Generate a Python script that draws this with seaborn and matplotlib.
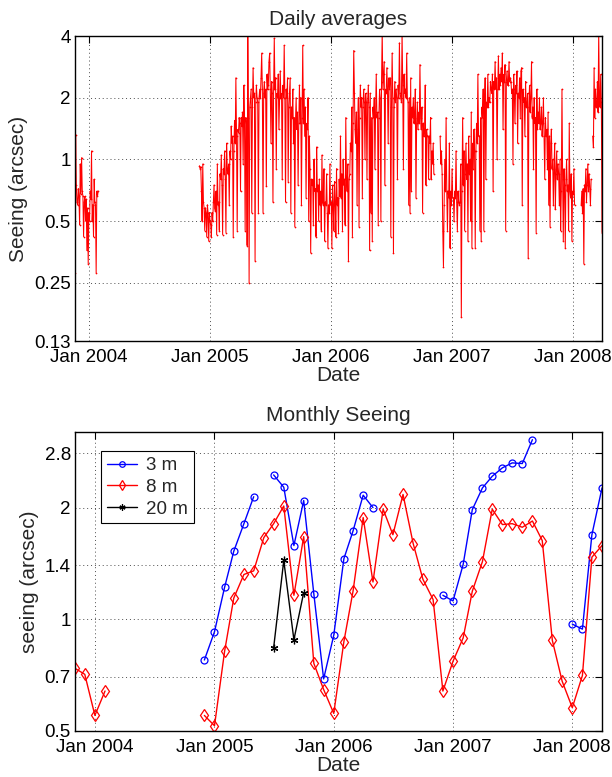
import numpy as np
import pandas as pd
import matplotlib
matplotlib.use("Agg")
import matplotlib.pyplot as plt
import seaborn as sns
from matplotlib.ticker import FixedLocator, FixedFormatter, NullLocator

# ---------------- data: daily averages (2-day sampling) ----------------
daily_start = ["2003-11-20", "2004-11-30", "2006-11-27", "2008-01-27", "2008-03-02"]

daily_seg1 = [0.28, 1.32, 0.75, 0.62, 0.60, 0.72, 0.66, 0.48, 0.95, 0.68, 1.02, 0.70,
              0.66, 0.42, 0.62, 0.66, 0.50, 0.64, 0.36, 0.58, 0.31, 0.55, 0.50, 0.70,
              0.64, 1.10, 0.50, 0.60, 0.42, 0.80, 0.62, 0.60, 0.28, 0.70, 0.66, 0.70]

daily_seg2 = [
    0.93, 0.90, 0.92, 0.70, 0.50, 0.95, 0.62, 0.58, 0.45, 0.58, 0.55, 0.42, 0.60, 0.55, 0.40, 0.55,
    0.50, 0.48, 0.42, 0.55, 0.50, 0.62, 0.75, 0.58, 0.56, 0.70, 0.43, 0.95, 0.60, 0.62, 0.45,
    0.85, 0.80, 1.05, 0.75, 0.43, 0.90, 0.85, 1.10, 0.80, 0.44, 1.20, 0.90, 0.85, 0.95, 0.60,
    1.10, 1.00, 1.45, 1.20, 1.30, 0.42, 1.10, 1.55, 1.20, 2.50, 1.30, 0.45, 1.40, 1.35, 1.60,
    1.50, 0.70, 1.60, 1.45, 1.70, 0.95, 2.30, 1.60, 0.45, 1.60, 1.50, 0.38, 4.20, 1.60, 0.25,
    1.80, 2.00, 2.20, 0.55, 1.80, 2.80, 2.00, 2.10, 0.32, 1.90, 2.30, 2.00, 1.90, 0.55, 2.00,
    2.20, 2.00, 2.50, 3.30, 2.20, 0.55, 2.10, 2.40, 2.00, 2.20, 0.74, 2.60, 2.20, 2.30, 3.00,
    3.30, 2.20, 1.20, 2.40, 2.10, 0.62, 2.20, 3.90, 2.20, 2.50, 0.90, 2.10, 2.00, 2.60, 1.40, 2.00,
    2.70, 2.00, 2.10, 0.80, 2.30, 2.00, 3.60, 2.00, 0.62, 2.20, 2.00, 2.50, 0.78, 1.80, 2.10,
    2.50, 0.55, 1.80, 1.60, 2.20, 1.20, 1.60, 0.47, 1.50, 2.00, 1.40, 1.70, 0.75, 1.50, 2.30,
    1.50, 2.00, 0.60, 1.60, 3.60, 1.50, 2.20, 1.30, 1.80, 0.65, 1.50, 1.40, 2.00, 0.50, 1.30,
    0.90, 0.35, 0.80, 0.75, 0.80, 0.48, 1.00, 0.70, 0.72, 0.42, 1.15, 0.70, 0.75, 0.50, 0.80,
    0.60, 0.70, 0.45, 1.05, 0.62, 0.60, 0.90, 0.40, 0.62, 0.60, 0.85, 0.55, 0.37, 0.60, 0.55,
    0.95, 0.60, 0.62, 0.37, 0.75, 0.60, 0.45, 0.78, 0.62, 0.42, 0.90, 0.60, 0.65, 0.44, 0.80, 0.66,
    1.30, 0.65, 0.85, 0.45, 1.00, 0.75, 0.80, 0.48, 1.60, 0.80, 0.70, 0.95, 0.32, 0.80, 0.85,
    1.20, 1.10, 1.80, 0.42, 1.50, 3.40, 2.10, 1.40, 1.20, 1.70, 0.60, 1.40, 2.00, 0.47, 1.60,
    2.30, 1.80, 2.00, 0.65, 1.80, 2.20, 1.90, 1.00, 2.10, 1.90, 0.80, 1.90, 2.30, 1.80, 0.36,
    2.10, 0.55, 1.60, 0.40, 1.80, 1.60, 2.00, 0.90, 1.70, 2.60, 1.60, 1.70, 0.48, 1.60, 2.20,
    2.00, 0.50, 2.40, 4.20, 2.20, 2.60, 3.00, 0.75, 2.20, 2.10, 2.80, 2.20, 1.20, 2.50, 2.20,
    2.50, 0.42, 1.80, 3.30, 2.00, 0.35, 1.80, 2.40, 1.90, 2.20, 2.00, 0.80, 2.30, 2.00, 3.70, 2.10,
    2.00, 1.90, 4.20, 2.30, 0.90, 2.60, 2.10, 2.20, 2.00, 3.30, 2.00, 1.90, 0.60, 2.00, 0.55,
    2.50, 0.70, 1.80, 1.60, 2.00, 1.50, 1.60, 2.20, 0.65, 1.50, 1.90, 1.40, 1.70, 1.50, 2.90,
    1.60, 1.40, 1.80, 0.55, 1.50, 1.30, 1.40, 2.30, 0.75, 1.40, 1.30, 1.30, 0.80, 1.30, 1.20,
    1.60, 0.80, 1.10, 0.95, 1.20, 0.85]

daily_seg3 = [
    1.30, 0.95, 1.10, 0.85, 0.45, 0.30, 0.60, 1.00, 0.70, 1.60, 0.70, 0.45, 0.70, 0.65, 1.20, 0.37, 0.70,
    0.60, 0.90, 0.65, 0.65, 0.50, 0.70, 0.65, 1.10, 0.62, 0.45, 0.70, 0.62, 0.60, 0.62, 0.95,
    0.17, 0.70, 1.60, 0.75, 1.10, 0.45, 0.85, 1.20, 0.80, 0.95, 0.40, 1.30, 0.85, 1.00, 0.50,
    1.70, 0.37, 1.20, 0.90, 1.40, 1.10, 0.37, 1.10, 1.50, 1.20, 2.60, 1.30, 1.30, 0.45, 1.60,
    0.40, 1.80, 1.60, 2.20, 0.45, 1.80, 2.50, 0.80, 1.90, 1.80, 2.60, 1.80, 2.00, 1.90, 2.40,
    2.20, 2.10, 2.60, 0.70, 2.40, 2.20, 3.00, 2.20, 2.50, 1.00, 2.20, 3.20, 2.20, 2.60, 2.30,
    2.80, 2.40, 3.30, 1.40, 2.60, 2.40, 2.90, 0.45, 2.40, 2.70, 2.30, 2.30, 3.00, 2.40, 2.50,
    2.40, 2.10, 2.20, 0.95, 2.60, 2.20, 1.50, 2.30, 2.10, 2.70, 1.20, 2.10, 2.00, 2.50, 1.60, 2.70,
    2.80, 0.60, 2.20, 1.90, 2.00, 1.30, 2.40, 1.80, 1.80, 2.10, 0.33, 1.80, 2.30, 1.70, 2.00,
    3.00, 1.60, 1.80, 0.90, 2.00, 1.50, 1.60, 0.44, 2.20, 1.40, 1.70, 1.50, 2.00, 1.40, 1.50,
    1.80, 1.30, 1.50, 2.00, 1.30, 0.80, 1.60, 1.30, 1.40, 0.90, 1.70, 0.60, 1.30, 0.47, 1.20,
    1.40, 0.90, 1.00, 0.60, 0.90, 1.20, 0.57, 0.85, 1.10, 0.80, 0.95, 0.85, 0.60, 1.00, 0.45,
    0.70, 2.20, 0.80, 0.40, 0.90, 0.75, 0.37, 0.80, 1.00, 0.70, 0.75, 0.45, 1.50, 0.70, 0.65,
    0.85, 0.40, 0.70, 0.68, 0.90, 0.60]

daily_seg4 = [0.60, 0.70, 0.55, 0.72, 0.31, 0.75, 0.70, 0.90, 0.62, 0.75, 0.95, 0.70,
              0.85, 0.72, 0.60, 0.80]

daily_seg5 = [1.30, 1.15, 2.80, 1.60, 2.20, 1.80, 1.80, 2.40, 1.70, 4.20, 2.00, 1.80,
              2.60, 1.90, 0.44]

# ---------------- data: monthly seeing (Nov 2003 .. Apr 2008) ----------------
month_first = "2003-11-01"
month_last = "2008-04-01"
nan = np.nan
seeing_3m = [nan] * 13 + [0.776, 0.925, 1.22, 1.525, 1.81, 2.14, nan,
             2.45, 2.27, 1.58, 2.09, 1.17, 0.69, 0.905, 1.456, 1.73, 2.16, 2.0] + [nan] * 6 + \
            [1.16, 1.12, 1.405, 1.975, 2.26, 2.43, 2.56, 2.64, 2.63, 3.05] + [nan] * 3 + \
            [0.97, 0.94, 1.69, 2.26]
seeing_8m = [0.737, 0.71, 0.55, 0.64] + [nan] * 9 + \
            [0.55, 0.516, 0.82, 1.14, 1.32, 1.35, 1.66, 1.81, 2.02, 1.16, 1.67, 0.76, 0.646,
             0.557, 0.87, 1.19, 1.88, 1.26, 1.98, 1.69, 2.17, 1.60, 1.28, 1.13, 0.64,
             0.77, 0.89, 1.19, 1.43, 1.98, 1.80, 1.81, 1.77, 1.84, 1.63, 0.876, 0.68,
             0.577, 0.705, 1.47, 1.58]
seeing_20m = [nan] * 20 + [0.837, 1.44, 0.88, 1.18] + [nan] * 30

series_names = ["3 m", "8 m", "20 m"]
series_colors = ["#0000ff", "#ff0000", "#000000"]
series_markers = ["o", "d", (6, 2, 0)]

year_ticks = ["2004-01-01", "2005-01-01", "2006-01-01", "2007-01-01", "2008-01-01"]
year_labels = ["Jan 2004", "Jan 2005", "Jan 2006", "Jan 2007", "Jan 2008"]
top_yticks = [0.13, 0.25, 0.5, 1, 2, 4]
top_ylabels = ["0.13", "0.25", "0.5", "1", "2", "4"]
bot_yticks = [0.5, 0.7, 1, 1.4, 2, 2.8]
bot_ylabels = ["0.5", "0.7", "1", "1.4", "2", "2.8"]

# ---------------- build frames ----------------
frames = []
for i, (start, vals) in enumerate(zip(daily_start, [daily_seg1, daily_seg2, daily_seg3,
                                                     daily_seg4, daily_seg5])):
    frames.append(pd.DataFrame({"date": pd.date_range(start, periods=len(vals), freq="2D"),
                                "seeing": vals, "seg": i}))
daily_df = pd.concat(frames, ignore_index=True)

months = pd.date_range(month_first, month_last, freq="MS")
monthly = {}
for name, vals in zip(series_names, [seeing_3m, seeing_8m, seeing_20m]):
    s = pd.Series(vals, dtype=float)
    seg = s.isna().cumsum()
    df = pd.DataFrame({"date": months, "seeing": s, "seg": seg}).dropna()
    monthly[name] = df

# ---------------- plotting ----------------
sns.set_style("white")
plt.rcParams["font.family"] = ["Liberation Sans", "DejaVu Sans"]

fig = plt.figure(figsize=(6.12, 7.77), dpi=100)
ax1 = fig.add_axes([0.1225, 0.5611, 0.8612, 0.3925])
ax2 = fig.add_axes([0.1225, 0.0595, 0.8612, 0.3846])

sns.lineplot(data=daily_df, x="date", y="seeing", units="seg", estimator=None,
             color="#ff0000", lw=0.75, marker=".", markersize=2.5,
             markeredgecolor="#ff0000", markeredgewidth=0, ax=ax1, legend=False)

marker_sizes = [5, 6, 5.5]
for name, c, m, ms in zip(series_names, series_colors, series_markers, marker_sizes):
    sns.lineplot(data=monthly[name], x="date", y="seeing", units="seg", estimator=None,
                 color=c, lw=1.0, marker=m, markersize=ms, markerfacecolor="none",
                 markeredgecolor=c, markeredgewidth=0.9, ax=ax2, legend=False, label=name)


def style_axis(ax, xlim, ylim, yt, yl, title, ylabel):
    ax.set_yscale("log")
    ax.set_ylim(*ylim)
    ax.yaxis.set_major_locator(FixedLocator(yt))
    ax.yaxis.set_major_formatter(FixedFormatter(yl))
    ax.yaxis.set_minor_locator(NullLocator())
    ax.set_xticks([pd.Timestamp(t) for t in year_ticks])
    ax.set_xticklabels(year_labels)
    ax.set_xlim(pd.Timestamp(xlim[0]), pd.Timestamp(xlim[1]))
    ax.xaxis.set_minor_locator(NullLocator())
    ax.grid(True, which="major", linestyle=(0, (1, 3)), color="0.3", linewidth=0.7)
    ax.tick_params(direction="in", top=True, right=True, length=5, width=0.8,
                   labelsize=13.5, colors="black")
    ax.tick_params(axis="x", pad=6)
    ax.tick_params(axis="y", pad=3)
    for sp in ax.spines.values():
        sp.set_visible(True)
        sp.set_color("black")
        sp.set_linewidth(1.0)
    ax.set_title(title, fontsize=15, pad=8)
    ax.set_xlabel("Date", fontsize=15, labelpad=0)
    ax.set_ylabel(ylabel, fontsize=15, labelpad=4)


style_axis(ax1, ("2003-11-20", "2008-03-30"), (0.13, 4), top_yticks, top_ylabels,
           "Daily averages", "Seeing (arcsec)")
style_axis(ax2, ("2003-11-01", "2008-04-01"), (0.5, 3.2), bot_yticks, bot_ylabels,
           "Monthly Seeing", "seeing (arcsec)")

handles, labels = ax2.get_legend_handles_labels()
seen = {}
for h, l in zip(handles, labels):
    if l not in seen:
        seen[l] = h
leg = ax2.legend([seen[n] for n in series_names], series_names, loc="upper left",
                 bbox_to_anchor=(0.05, 0.935), borderaxespad=0, fontsize=13.5,
                 frameon=True, fancybox=False, framealpha=1, edgecolor="black",
                 handlelength=1.6, handletextpad=0.5, labelspacing=0.25, borderpad=0.3,
                 markerscale=0.8)
leg.get_frame().set_linewidth(0.8)

fig.savefig("out.png", dpi=100)
